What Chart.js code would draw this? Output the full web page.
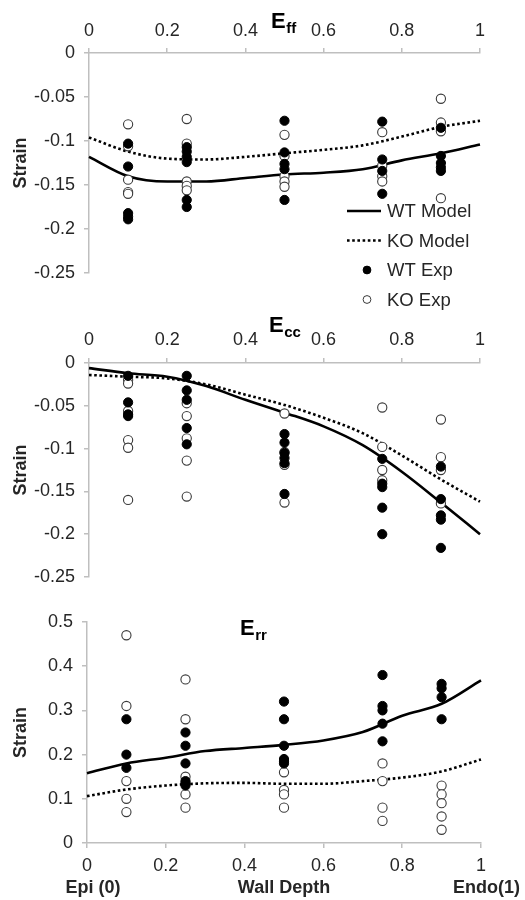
<!DOCTYPE html>
<html><head><meta charset="utf-8">
<script src="https://cdn.jsdelivr.net/npm/chart.js@4/dist/chart.umd.min.js"></script>
<style>
html,body{margin:0;padding:0;background:#fff;width:525px;height:900px;overflow:hidden}
.p{position:absolute;left:0;width:525px}
</style></head><body>
<div class="p" style="top:0;height:312px"><canvas id="c1"></canvas></div>
<div class="p" style="top:312px;height:285px"><canvas id="c2"></canvas></div>
<div class="p" style="top:597px;height:303px"><canvas id="c3"></canvas></div>
<script>
// ---------- data ----------
const modelDepth = [0, 0.1, 0.2, 0.3, 0.4, 0.5, 0.6, 0.7, 0.8, 0.9, 1];
const expDepth = [0.1, 0.25, 0.5, 0.75, 0.9];
const seriesNames = ['WT Model', 'KO Model', 'WT Exp', 'KO Exp'];

const effWTModel = [-0.118,-0.140,-0.146,-0.146,-0.142,-0.138,-0.136,-0.132,-0.122,-0.114,-0.104];
const effKOModel = [-0.096,-0.112,-0.120,-0.121,-0.118,-0.114,-0.110,-0.105,-0.095,-0.084,-0.077];
const effWTExp = [[-0.103,-0.129,-0.182,-0.186,-0.189],[-0.107,-0.112,-0.118,-0.124,-0.167,-0.175],[-0.077,-0.113,-0.126,-0.132,-0.167],[-0.078,-0.121,-0.134,-0.160],[-0.085,-0.117,-0.125,-0.130,-0.134]];
const effKOExp = [[-0.081,-0.106,-0.144,-0.158,-0.160],[-0.075,-0.103,-0.146,-0.151,-0.156],[-0.093,-0.117,-0.140,-0.146,-0.152],[-0.090,-0.128,-0.140,-0.146],[-0.052,-0.079,-0.089,-0.165]];

const eccWTModel = [-0.006,-0.012,-0.016,-0.027,-0.043,-0.058,-0.074,-0.096,-0.127,-0.163,-0.200];
const eccKOModel = [-0.014,-0.016,-0.018,-0.025,-0.037,-0.049,-0.064,-0.082,-0.108,-0.136,-0.162];
const eccWTExp = [[-0.015,-0.046,-0.060,-0.062],[-0.015,-0.032,-0.043,-0.076,-0.095],[-0.083,-0.093,-0.105,-0.111,-0.117,-0.153],[-0.112,-0.141,-0.145,-0.169,-0.200],[-0.121,-0.159,-0.178,-0.183,-0.216]];
const eccKOExp = [[-0.020,-0.024,-0.056,-0.090,-0.099,-0.160],[-0.047,-0.062,-0.088,-0.114,-0.156],[-0.059,-0.104,-0.119,-0.163],[-0.052,-0.098,-0.125,-0.137],[-0.066,-0.110,-0.125,-0.164]];

const errWTModel = [0.158,0.180,0.193,0.208,0.215,0.222,0.232,0.251,0.288,0.315,0.368];
const errKOModel = [0.106,0.121,0.130,0.135,0.136,0.134,0.134,0.140,0.148,0.162,0.189];
const errWTExp = [[0.28,0.20,0.17],[0.25,0.22,0.18,0.14,0.135,0.13],[0.32,0.28,0.22,0.19,0.185,0.18],[0.38,0.31,0.30,0.27,0.23],[0.36,0.35,0.33,0.28]];
const errKOExp = [[0.47,0.31,0.14,0.10,0.07],[0.37,0.28,0.15,0.11,0.08],[0.16,0.12,0.11,0.08],[0.18,0.14,0.08,0.05],[0.13,0.11,0.09,0.06,0.03]];

const xTickStep = 0.2;
const effRange = [-0.25, 0], eccRange = [-0.25, 0], errRange = [0, 0.5];

// ---------- helpers ----------
const FONT = "'Liberation Sans', Arial, sans-serif";
const TXT = '#262626';
const AX = '#bfbfbf';
const fmt = v => String(Math.round(v * 1000) / 1000);
const modelPts = arr => modelDepth.map((x, i) => ({x, y: arr[i]}));
const expPts = groups => {
  const out = [];
  groups.forEach((g, i) => g.forEach(y => out.push({x: expDepth[i], y})));
  return out;
};

function datasets(wtM, koM, wtE, koE) {
  return [
    {label: seriesNames[0], data: modelPts(wtM), showLine: true, pointRadius: 0, borderColor: '#000', borderWidth: 2.6,
     cubicInterpolationMode: 'monotone', order: 3, clip: false},
    {label: seriesNames[1], data: modelPts(koM), showLine: true, pointRadius: 0, borderColor: '#000', borderWidth: 2.6,
     borderDash: [2.6, 2.6], cubicInterpolationMode: 'monotone', order: 2, clip: false},
    {label: seriesNames[2], data: expPts(wtE), showLine: false, pointRadius: 4.6, pointBackgroundColor: '#000',
     pointBorderColor: '#000', pointBorderWidth: 1, order: 0, clip: false},
    {label: seriesNames[3], data: expPts(koE), showLine: false, pointRadius: 4.6, pointBackgroundColor: '#fff',
     pointBorderColor: '#3a3a3a', pointBorderWidth: 1.1, order: 1, clip: false},
  ];
}

const titlePlugin = {
  id: 'subTitle',
  afterDraw(chart, args, o) {
    const ctx = chart.ctx;
    ctx.save();
    ctx.fillStyle = '#000';
    ctx.textBaseline = 'alphabetic';
    ctx.textAlign = 'left';
    ctx.font = "bold 22px " + FONT;
    ctx.fillText(o.main, o.x, o.y);
    const w = ctx.measureText(o.main).width;
    ctx.font = "bold 15px " + FONT;
    ctx.fillText(o.sub, o.x + w + 0.5, o.y + 5);
    ctx.restore();
  }
};

const legendPlugin = {
  id: 'customLegend',
  afterDraw(chart, args, o) {
    if (!o.show) return;
    const ctx = chart.ctx;
    ctx.save();
    chart.data.datasets.forEach((ds, i) => {
      const y = o.y + i * o.gap;
      if (ds.showLine) {
        ctx.strokeStyle = ds.borderColor;
        ctx.lineWidth = ds.borderWidth;
        ctx.setLineDash(ds.borderDash || []);
        ctx.beginPath();
        ctx.moveTo(o.x, y);
        ctx.lineTo(o.x + 34, y);
        ctx.stroke();
        ctx.setLineDash([]);
      } else {
        ctx.beginPath();
        ctx.arc(o.x + 20, y, 3.9, 0, Math.PI * 2);
        ctx.fillStyle = ds.pointBackgroundColor;
        ctx.fill();
        ctx.lineWidth = 1;
        ctx.strokeStyle = ds.pointBorderColor;
        ctx.stroke();
      }
      ctx.fillStyle = TXT;
      ctx.font = "18.5px " + FONT;
      ctx.textBaseline = 'middle';
      ctx.textAlign = 'left';
      ctx.fillText(ds.label, o.x + 40, y + 1);
    });
    ctx.restore();
  }
};

const bottomLabels = {
  id: 'bottomLabels',
  afterDraw(chart, args, o) {
    if (!o.show) return;
    const ctx = chart.ctx;
    ctx.save();
    ctx.fillStyle = TXT;
    ctx.font = "bold 18px " + FONT;
    ctx.textBaseline = 'middle';
    ctx.textAlign = 'center';
    ctx.fillText(o.left, o.lx, o.y);
    ctx.textAlign = 'right';
    ctx.fillText(o.right, o.rx, o.y);
    ctx.restore();
  }
};

function makePanel(id, opt) {
  const xAxis = {
    type: 'linear', position: opt.xPos, min: 0, max: 1,
    ticks: {stepSize: xTickStep, color: TXT, font: {family: FONT, size: 18}, padding: opt.xPad, callback: fmt, maxRotation: 0},
    grid: {drawOnChartArea: false, drawTicks: true, tickLength: 5, color: AX, lineWidth: 1.5},
    border: {display: true, color: AX, width: 1.5},
    title: opt.xTitle ? {display: true, text: opt.xTitle, color: TXT, font: {family: FONT, size: 18, weight: 'bold'}, padding: {top: 0, bottom: 1}} : {display: false},
    afterFit: s => { s.height = opt.xH; }
  };
  const yAxis = {
    type: 'linear', position: 'left', min: opt.yRange[0], max: opt.yRange[1],
    ticks: {stepSize: opt.yStep, color: TXT, font: {family: FONT, size: 18}, padding: 9, callback: fmt},
    grid: {drawOnChartArea: false, drawTicks: true, tickLength: 5, color: AX, lineWidth: 1.5},
    border: {display: true, color: AX, width: 1.5},
    title: {display: true, text: 'Strain', color: TXT, font: {family: FONT, size: 18, weight: 'bold'}, padding: {top: 10, bottom: 0}},
    afterFit: s => { s.width = opt.yW; }
  };
  return new Chart(document.getElementById(id), {
    type: 'scatter',
    data: {datasets: opt.ds},
    options: {
      responsive: true, maintainAspectRatio: false, animation: false,
      layout: {padding: opt.pad},
      scales: {x: xAxis, y: yAxis},
      plugins: {
        legend: {display: false}, tooltip: {enabled: false},
        subTitle: opt.title,
        customLegend: opt.legend || {show: false},
        bottomLabels: opt.bottom || {show: false}
      }
    },
    plugins: [titlePlugin, legendPlugin, bottomLabels]
  });
}

makePanel('c1', {
  ds: datasets(effWTModel, effKOModel, effWTExp, effKOExp),
  xPos: 'top', xH: 53, xPad: 6, yW: 89, yRange: effRange, yStep: 0.05,
  pad: {top: 0, right: 45, bottom: 39, left: 0},
  title: {main: 'E', sub: 'ff', x: 271, y: 28},
  legend: {show: true, x: 347, y: 211, gap: 29.5}
});
makePanel('c2', {
  ds: datasets(eccWTModel, eccKOModel, eccWTExp, eccKOExp),
  xPos: 'top', xH: 51, xPad: 7, yW: 89, yRange: eccRange, yStep: 0.05,
  pad: {top: 0, right: 45, bottom: 20, left: 0},
  title: {main: 'E', sub: 'cc', x: 269, y: 20}
});
makePanel('c3', {
  ds: datasets(errWTModel, errKOModel, errWTExp, errKOExp),
  xPos: 'bottom', xH: 57, xPad: 7, yW: 87, yRange: errRange, yStep: 0.1,
  xTitle: 'Wall Depth',
  pad: {top: 25, right: 44, bottom: 0, left: 0},
  title: {main: 'E', sub: 'rr', x: 240, y: 38},
  bottom: {show: true, left: 'Epi (0)', right: 'Endo(1)', lx: 93, rx: 520, y: 291}
});
</script>
</body></html>
